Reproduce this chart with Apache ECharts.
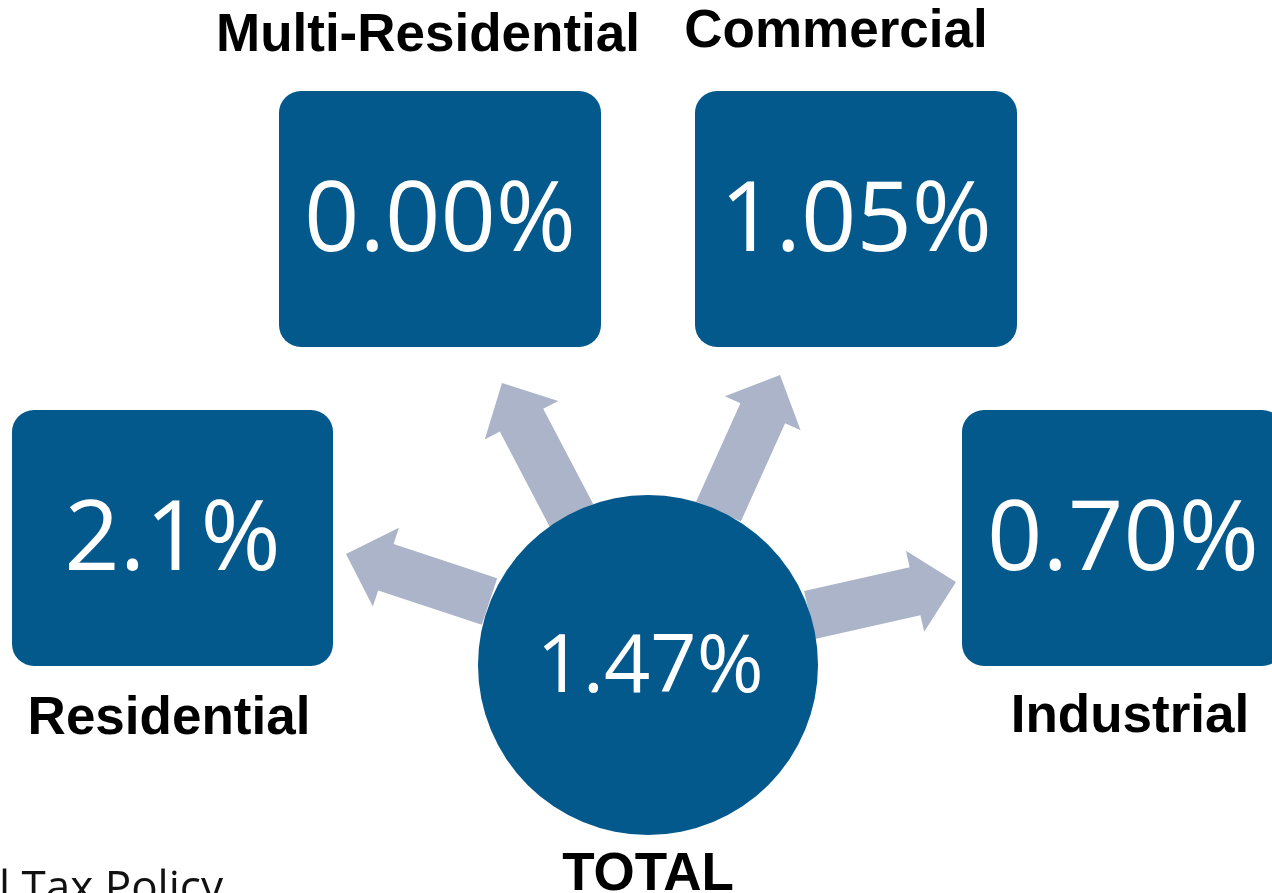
<!DOCTYPE html>
<html>
<head>
<meta charset="utf-8">
<script src="https://cdn.jsdelivr.net/npm/echarts@6/dist/echarts.min.js"></script>
<style>
html,body{margin:0;padding:0;background:#fff;}
#chart{width:1272px;height:893px;}
</style>
</head>
<body>
<div id="chart"></div>
<script>
// ---- data ----
const categories = ['Residential', 'Multi-Residential', 'Commercial', 'Industrial'];
const values = [2.1, 0.00, 1.05, 0.70];
const decimals = [1, 2, 2, 2];
const totalLabel = 'TOTAL';
const totalValue = 1.47;
const totalDecimals = 2;
const sourceNote = 'l Tax Policy';

// ---- layout (positions / styles only) ----
const BOX_COLOR = '#03588C';
const ARROW_COLOR = '#ABB4C8';
const layout = [
  { box: [12, 410, 321, 256], label: [169, 719.5], base: [489.5, 601.5], tip: [346, 554] },
  { box: [279, 91, 322, 256], label: [428, 36.5], base: [571.5, 515.5], tip: [502, 383] },
  { box: [695, 91, 322, 256], label: [836, 32], base: [718.5, 511.5], tip: [780, 375] },
  { box: [962, 410, 322, 256], label: [1130, 717.5], base: [809.5, 615], tip: [956, 582] }
];
const circle = { cx: 648, cy: 665, r: 170, valueY: 669, label: [648, 875.5] };

function fmt(v, d) { return v.toFixed(d) + '%'; }

function arrowPoints(base, tip) {
  const shaft = 49, head = 83, headLen = 42;
  const dx = tip[0] - base[0], dy = tip[1] - base[1];
  const len = Math.sqrt(dx * dx + dy * dy);
  const ux = dx / len, uy = dy / len;
  const nx = -uy, ny = ux;
  const jx = tip[0] - ux * headLen, jy = tip[1] - uy * headLen;
  const hs = shaft / 2, hh = head / 2;
  return [
    [base[0] + nx * hs, base[1] + ny * hs],
    [jx + nx * hs, jy + ny * hs],
    [jx + nx * hh, jy + ny * hh],
    [tip[0], tip[1]],
    [jx - nx * hh, jy - ny * hh],
    [jx - nx * hs, jy - ny * hs],
    [base[0] - nx * hs, base[1] - ny * hs]
  ];
}

const chart = echarts.init(document.getElementById('chart'), null, { renderer: 'canvas' });

const option = {
  animation: false,
  backgroundColor: '#ffffff',
  series: [
    {
      type: 'custom',
      coordinateSystem: 'none',
      z: 1,
      data: values.map((v, i) => [i, v]),
      renderItem: function (params, api) {
        const i = params.dataIndex;
        const L = layout[i];
        const [bx, by, bw, bh] = L.box;
        return {
          type: 'group',
          children: [
            {
              type: 'polygon',
              shape: { points: arrowPoints(L.base, L.tip) },
              style: { fill: ARROW_COLOR }
            },
            {
              type: 'rect',
              shape: { x: bx, y: by, width: bw, height: bh, r: 22 },
              style: { fill: BOX_COLOR }
            },
            {
              type: 'text',
              style: {
                text: fmt(api.value(1), decimals[i]),
                x: bx + bw / 2, y: by + 132,
                fill: '#ffffff',
                fontFamily: '"Open Sans"', fontSize: 97, fontWeight: 'normal',
                align: 'center', verticalAlign: 'middle'
              }
            },
            {
              type: 'text',
              style: {
                text: categories[i],
                x: L.label[0], y: L.label[1],
                fill: '#000000',
                fontFamily: '"Liberation Sans", Arial, sans-serif', fontSize: 53, fontWeight: 'bold',
                align: 'center', verticalAlign: 'middle'
              }
            }
          ]
        };
      }
    },
    {
      type: 'custom',
      coordinateSystem: 'none',
      z: 3,
      data: [[0, totalValue]],
      renderItem: function (params, api) {
        return {
          type: 'group',
          children: [
            {
              type: 'circle',
              shape: { cx: circle.cx, cy: circle.cy, r: circle.r },
              style: { fill: BOX_COLOR }
            },
            {
              type: 'text',
              style: {
                text: fmt(api.value(1), totalDecimals),
                x: circle.cx + 2, y: circle.valueY,
                fill: '#ffffff',
                fontFamily: '"Open Sans"', fontSize: 81,
                align: 'center', verticalAlign: 'middle'
              }
            },
            {
              type: 'text',
              style: {
                text: totalLabel,
                x: circle.label[0], y: circle.label[1],
                fill: '#000000',
                fontFamily: '"Liberation Sans", Arial, sans-serif', fontSize: 53, fontWeight: 'bold',
                align: 'center', verticalAlign: 'middle'
              }
            }
          ]
        };
      }
    }
  ],
  graphic: [
    {
      type: 'text',
      left: -1,
      top: 867,
      style: {
        text: sourceNote,
        fill: '#111111',
        fontFamily: '"Open Sans"', fontSize: 44
      }
    }
  ]
};
chart.setOption(option);
</script>
</body>
</html>
